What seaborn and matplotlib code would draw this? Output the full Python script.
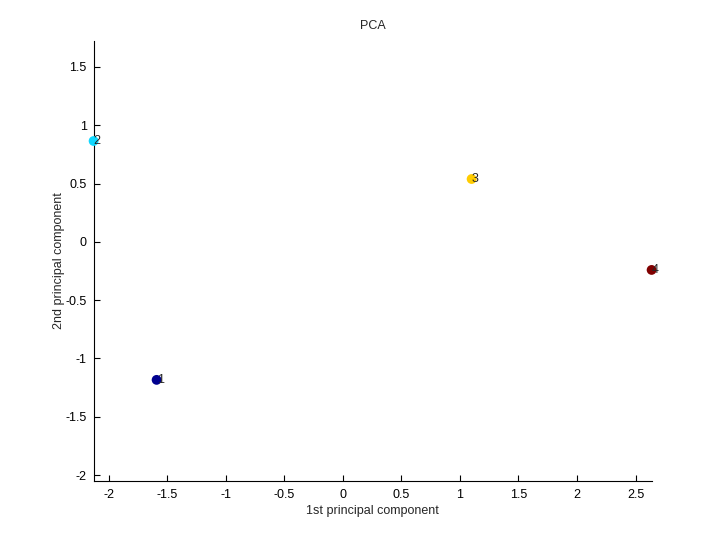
import seaborn as sns
import pandas as pd
import matplotlib.pyplot as plt

# PCA scores
labels = ['1', '2', '3', '4']
pc1 = [-1.590, -2.128, 1.100, 2.637]
pc2 = [-1.184, 0.865, 0.539, -0.241]
colors = ['#00008f', '#10d8ff', '#ffcc00', '#800000']

df = pd.DataFrame({'pc1': pc1, 'pc2': pc2, 'label': labels})

sns.set_style('ticks')
plt.rcParams['font.family'] = ['Liberation Sans', 'DejaVu Sans']
plt.rcParams['xtick.direction'] = 'in'
plt.rcParams['ytick.direction'] = 'in'

fig = plt.figure(figsize=(7.2, 5.4), dpi=100)
ax = fig.add_axes([0.13, 0.11, 0.775, 0.815])

sns.scatterplot(data=df, x='pc1', y='pc2', hue='label', palette=colors,
                s=50, edgecolor='none', legend=False, ax=ax, zorder=3,
                clip_on=False)
for x, y, t in zip(pc1, pc2, labels):
    ax.text(x, y, t, fontsize=9, ha='left', va='center', zorder=4)

ax.set_xlim(-2.128, 2.637)
ax.set_ylim(-2.048, 1.727)
ax.set_xticks([-2, -1.5, -1, -0.5, 0, 0.5, 1, 1.5, 2, 2.5])
ax.set_xticklabels(['-2', '-1.5', '-1', '-0.5', '0', '0.5', '1', '1.5', '2', '2.5'])
ax.set_yticks([-2, -1.5, -1, -0.5, 0, 0.5, 1, 1.5])
ax.set_yticklabels(['-2', '-1.5', '-1', '-0.5', '0', '0.5', '1', '1.5'])
ax.tick_params(labelsize=9, length=4, width=0.8, colors='black')
ax.tick_params(axis='x', pad=6)
ax.tick_params(axis='y', pad=5)
sns.despine(ax=ax)
for s in ['left', 'bottom']:
    ax.spines[s].set_color('black')
    ax.spines[s].set_linewidth(0.8)

ax.set_title('PCA', fontsize=9, pad=8)
ax.set_xlabel('1st principal component', fontsize=9, labelpad=3)
ax.set_ylabel('2nd principal component', fontsize=9, labelpad=0)

fig.savefig('out.png', dpi=100, facecolor='white')
